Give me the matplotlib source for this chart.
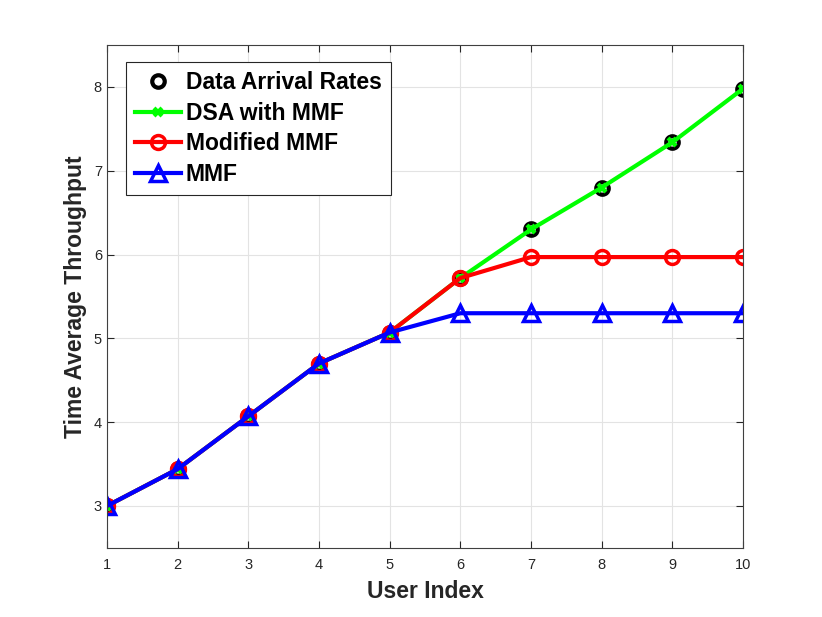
import matplotlib
matplotlib.use("Agg")
import matplotlib.pyplot as plt

plt.rcParams['font.family'] = ['Liberation Sans', 'DejaVu Sans']

users = [1, 2, 3, 4, 5, 6, 7, 8, 9, 10]
arrival = [3.00, 3.44, 4.07, 4.70, 5.07, 5.72, 6.30, 6.80, 7.34, 7.98]
dsa_mmf = [3.00, 3.44, 4.07, 4.70, 5.07, 5.72, 6.30, 6.80, 7.34, 7.98]
mod_mmf = [3.00, 3.44, 4.07, 4.70, 5.07, 5.72, 5.97, 5.97, 5.97, 5.97]
mmf = [3.00, 3.44, 4.07, 4.70, 5.07, 5.30, 5.30, 5.30, 5.30, 5.30]

fig = plt.figure(figsize=(8.22, 6.17), dpi=100)
ax = fig.add_axes([0.130, 0.112, 0.774, 0.815])

ax.plot(users, arrival, linestyle='none', marker='o', markersize=9, markerfacecolor='none',
        markeredgecolor='black', markeredgewidth=3, label='Data Arrival Rates')
ax.plot(users, dsa_mmf, color='#00ff00', linewidth=3, marker='x', markersize=6,
        markeredgewidth=3, label='DSA with MMF')
ax.plot(users, mod_mmf, color='#ff0000', linewidth=3, marker='o', markersize=10,
        markerfacecolor='none', markeredgewidth=2.5, label='Modified MMF')
ax.plot(users, mmf, color='#0000ff', linewidth=3, marker='^', markersize=11,
        markerfacecolor='none', markeredgewidth=2.5, label='MMF')

ax.set_xlim(1, 10)
ax.set_ylim(2.5, 8.5)
ax.set_xticks(users)
ax.set_yticks([3, 4, 5, 6, 7, 8])
ax.grid(True, color='#e3e3e3', linewidth=0.8)
ax.set_axisbelow(True)
ax.tick_params(direction='in', top=True, right=True, labelsize=10.5, colors='#262626', length=5)
ax.tick_params(axis='x', pad=7)
for s in ax.spines.values():
    s.set_color('#404040')
    s.set_linewidth(0.8)

ax.set_xlabel('User Index', fontsize=16.5, fontweight='bold', color='#262626', labelpad=6)
ax.set_ylabel('Time Average Throughput', fontsize=16.5, fontweight='bold', color='#262626', labelpad=5)

leg = ax.legend(loc='upper left', bbox_to_anchor=(0.030, 0.966),
                prop={'weight': 'bold', 'size': 16.5}, frameon=True, fancybox=False,
                edgecolor='#262626', framealpha=1, handlelength=2.0, borderpad=0.4,
                labelspacing=0.33, handletextpad=0.2, borderaxespad=0)
leg.get_frame().set_linewidth(0.8)

fig.savefig('out.png', dpi=100)
